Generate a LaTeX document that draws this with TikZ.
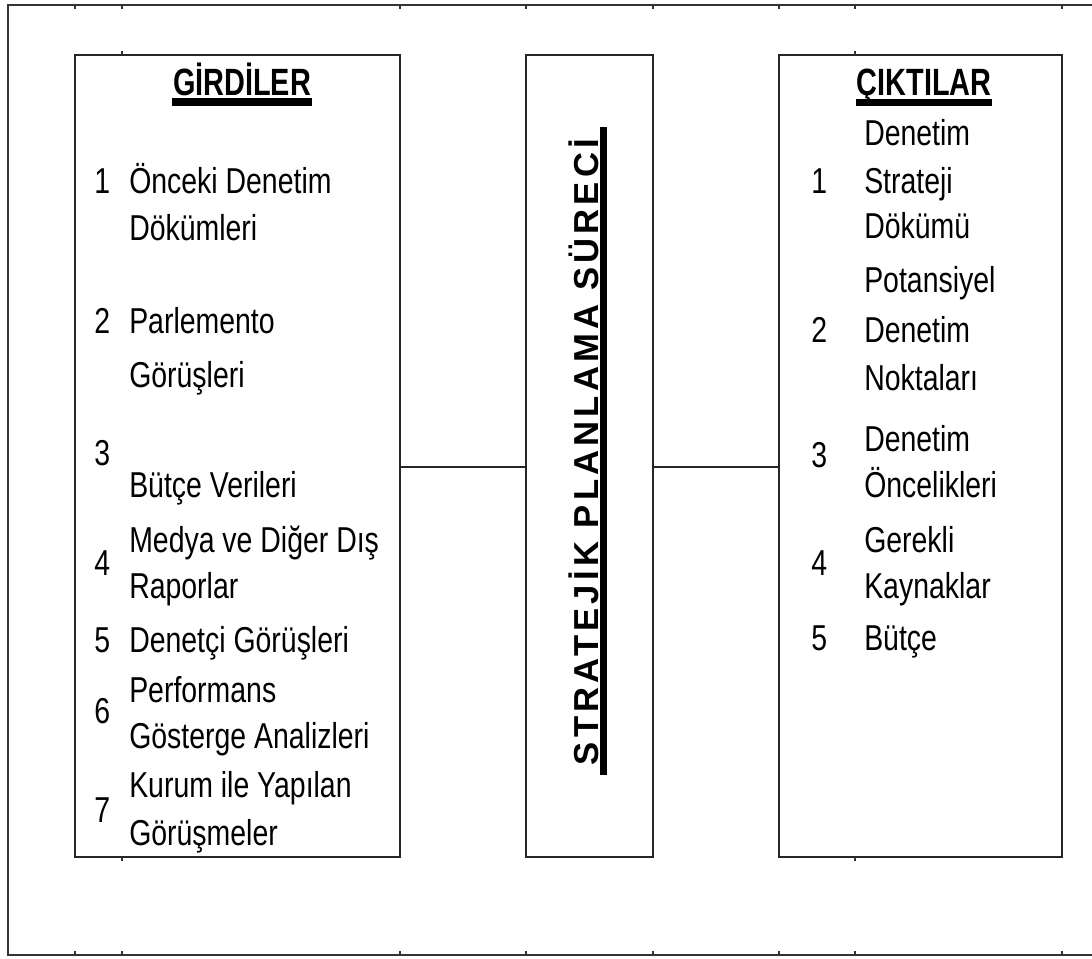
\documentclass[tikz,border=0pt]{standalone}
\usepackage{fontspec}
\setmainfont{Liberation Sans}
\newfontfamily\bodyf{Liberation Sans}[FakeStretch=0.79]
\newfontfamily\headf{Liberation Sans}[FakeStretch=0.76]
\newfontfamily\rotf{Liberation Sans}[FakeStretch=1.0,LetterSpace=12]
\begin{document}
\begin{tikzpicture}[x=0.75pt,y=-0.75pt,
  frame/.style={draw=black!80,line width=1.2pt},
  box/.style={draw=black!85,line width=1.2pt,inner sep=0pt,outer sep=0pt,minimum height=802*0.75pt},
  item/.style={anchor=base west,inner sep=0pt,font=\bodyf\fontsize{27}{32}\selectfont},
  head/.style={anchor=base,inner sep=0pt,font=\headf\bfseries\fontsize{28.5}{34}\selectfont},
  bar/.style={fill=black},
  link/.style={draw=black!85,line width=1.2pt},
  tick/.style={draw=black!80,line width=1pt}]
\useasboundingbox (0,0) rectangle (1092,958);
% outer frame
\draw[frame] (1092,5) -- (8,5) -- (8,955) -- (1092,955);
\foreach \x in {75,122,400,526,653,779,855,1062}{
  \draw[tick] (\x,5) -- (\x,9);
  \draw[tick] (\x,955) -- (\x,951);
}
% boxes
\node[box,minimum width=325*0.75pt] (L) at (237.5,456) {};
\node[box,minimum width=127*0.75pt] (M) at (589.5,456) {};
\node[box,minimum width=283*0.75pt] (R) at (920.5,456) {};
\foreach \x in {122}{\draw[tick] (\x,55) -- (\x,51); \draw[tick] (\x,857) -- (\x,861);}
\foreach \x in {855}{\draw[tick] (\x,55) -- (\x,51); \draw[tick] (\x,857) -- (\x,861);}
% connectors
\coordinate (cy) at (0,467);
\draw[link] (L.east |- cy) -- (M.west |- cy);
\draw[link] (M.east |- cy) -- (R.west |- cy);
% left column
\node[head] (hL) at (242,95) {GİRDİLER};
\fill[bar] (172,98) rectangle (312,106);
\node[item] (n1) at (94,193) {1};
\node[item] (a1) at (129,193) {Önceki Denetim};
\node[item] (a1b) at (129,240) {Dökümleri};
\node[item] (n2) at (94,333) {2};
\node[item] (a2) at (129,333) {Parlemento};
\node[item] (a2b) at (129,387) {Görüşleri};
\node[item] (n3) at (94,465) {3};
\node[item] (a3) at (129,497) {Bütçe Verileri};
\node[item] (n4) at (94,575) {4};
\node[item] (a4) at (129,552) {Medya ve Diğer Dış};
\node[item] (a4b) at (129,598) {Raporlar};
\node[item] (n5) at (94,652) {5};
\node[item] (a5) at (129,652) {Denetçi Görüşleri};
\node[item] (n6) at (94,723) {6};
\node[item] (a6) at (129,702) {Performans};
\node[item] (a6b) at (129,748) {Gösterge Analizleri};
\node[item] (n7) at (94,822) {7};
\node[item] (a7) at (129,797) {Kurum ile Yapılan};
\node[item] (a7b) at (129,845) {Görüşmeler};
% middle
\node[rotate=90,anchor=base,inner sep=0pt,font=\rotf\bfseries\fontsize{26}{30}\selectfont] (T) at (598,452) {STRATEJİK PLANLAMA SÜRECİ};
\fill[bar] (600,127) rectangle (607,775);
% right column
\node[head] (hR) at (924,95) {ÇIKTILAR};
\fill[bar] (856,99) rectangle (992,106);
\node[item] (m1) at (811,193) {1};
\node[item] (b1a) at (864,145) {Denetim};
\node[item] (b1) at (864,193) {Strateji};
\node[item] (b1b) at (864,238) {Dökümü};
\node[item] (m2) at (811,342) {2};
\node[item] (b2a) at (864,292) {Potansiyel};
\node[item] (b2) at (864,342) {Denetim};
\node[item] (b2b) at (864,390) {Noktaları};
\node[item] (m3) at (811,467) {3};
\node[item] (b3) at (864,451) {Denetim};
\node[item] (b3b) at (864,497) {Öncelikleri};
\node[item] (m4) at (811,575) {4};
\node[item] (b4) at (864,552) {Gerekli};
\node[item] (b4b) at (864,598) {Kaynaklar};
\node[item] (m5) at (811,650) {5};
\node[item] (b5) at (864,650) {Bütçe};
\end{tikzpicture}
\end{document}
